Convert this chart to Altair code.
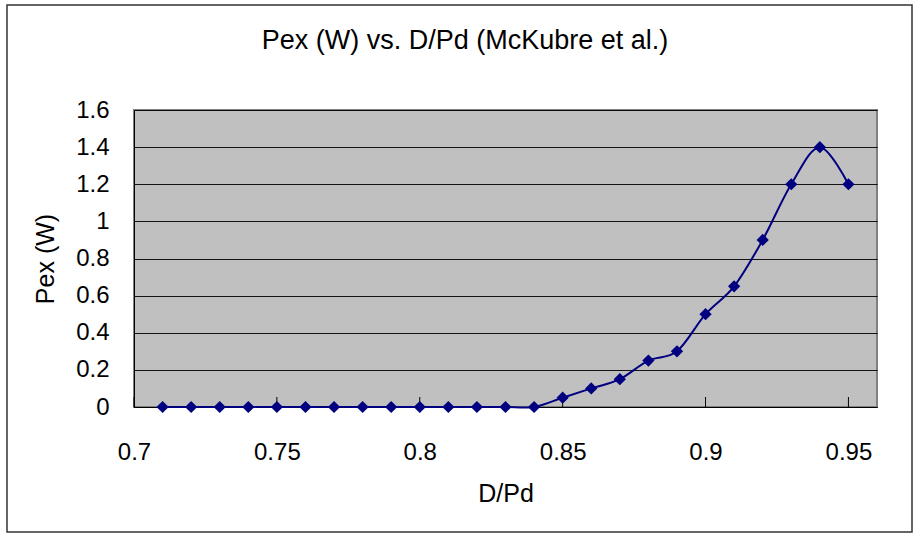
import altair as alt
import pandas as pd

# ---- data ----
d_pd = [0.71, 0.72, 0.73, 0.74, 0.75, 0.76, 0.77, 0.78, 0.79, 0.80,
        0.81, 0.82, 0.83, 0.84, 0.85, 0.86, 0.87, 0.88, 0.89, 0.90,
        0.91, 0.92, 0.93, 0.94, 0.95]
pex_w = [0.0, 0.0, 0.0, 0.0, 0.0, 0.0, 0.0, 0.0, 0.0, 0.0,
         0.0, 0.0, 0.0, 0.0, 0.05, 0.10, 0.15, 0.25, 0.30, 0.50,
         0.65, 0.90, 1.20, 1.40, 1.20]
x_ticks = [0.7, 0.75, 0.8, 0.85, 0.9, 0.95]
y_ticks = [0, 0.2, 0.4, 0.6, 0.8, 1.0, 1.2, 1.4, 1.6]
title_text = "Pex (W) vs. D/Pd (McKubre et al.)"

FONT = "Liberation Sans, Arial, sans-serif"
NAVY = "#000080"

W, H = 743, 297
PAD = {"left": 134, "top": 110, "right": 38, "bottom": 127}

df = pd.DataFrame({"x": d_pd, "y": pex_w})
tick_df = pd.DataFrame({"t": x_ticks})
title_df = pd.DataFrame({"label": [title_text]})

xscale = alt.Scale(domain=[0.7, 0.96], nice=False, zero=False)
yscale = alt.Scale(domain=[0, 1.6], nice=False, zero=False)

base = alt.Chart(df)

line = base.mark_line(interpolate="cardinal", color=NAVY, strokeWidth=2).encode(
    x=alt.X("x:Q", scale=xscale,
            axis=alt.Axis(title="D/Pd", values=x_ticks, tickCount=20, format="~g", grid=False,
                          ticks=False, labelPadding=33, titlePadding=17,
                          labelFlush=False, labelOverlap=False)),
    y=alt.Y("y:Q", scale=yscale,
            axis=alt.Axis(title="Pex (W)", values=y_ticks, tickCount=20, format="~g", grid=True,
                          ticks=False, labelPadding=25, titlePadding=17,
                          labelOverlap=False, labelFlush=False)),
)

points = base.mark_point(shape="diamond", filled=True, color=NAVY, size=150, opacity=1).encode(
    x=alt.X("x:Q", scale=xscale),
    y=alt.Y("y:Q", scale=yscale),
)

xticks_layer = alt.Chart(tick_df).mark_rule(color="#000000", strokeWidth=1).encode(
    x=alt.X("t:Q", scale=xscale),
    y=alt.value(H),
    y2=alt.value(H - 10),
)

border = alt.Chart(pd.DataFrame({"a": [0]})).mark_rect(
    fillOpacity=0, stroke="#333333", strokeWidth=1.5
).encode(
    x=alt.value(-127), x2=alt.value(778),
    y=alt.value(-105), y2=alt.value(422),
)

title_layer = alt.Chart(title_df).mark_text(
    font=FONT, fontSize=27, color="#000000", align="center", baseline="middle"
).encode(
    text="label:N",
    x=alt.value(331),
    y=alt.value(-69),
)

chart = alt.layer(border, xticks_layer, line, points, title_layer).properties(
    width=W, height=H,
    padding=PAD,
    autosize=alt.AutoSizeParams(type="none"),
    background="#ffffff",
).configure_view(
    fill="#C0C0C0", stroke="#808080", strokeWidth=2
).configure_axis(
    labelFont=FONT, titleFont=FONT, labelFontSize=24, titleFontSize=25,
    labelColor="#000000", titleColor="#000000", titleFontWeight="normal",
    gridColor="#000000", gridWidth=1, gridOpacity=0.9,
    domainColor="#000000", domainWidth=1,
)

chart.save("out.html", embed_options={"renderer": "svg", "actions": False})
